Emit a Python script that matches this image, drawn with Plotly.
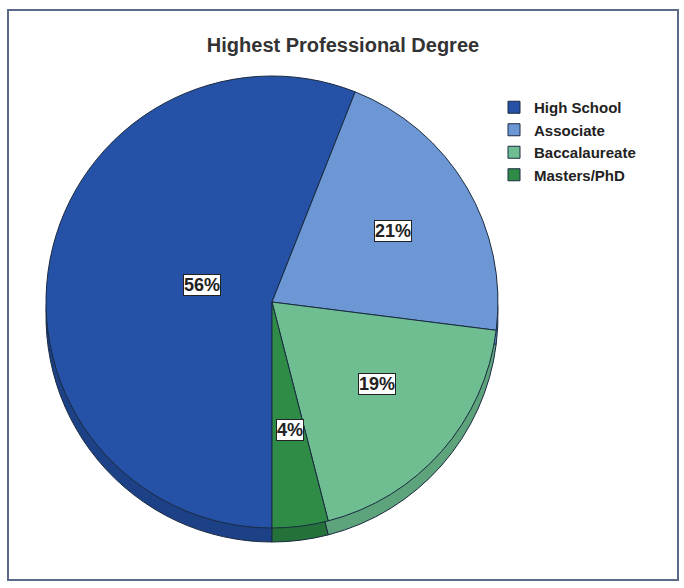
import math
import plotly.graph_objects as go

categories = ["High School", "Associate", "Baccalaureate", "Masters/PhD"]
percents = [56, 21, 19, 4]
colors = ["#2552a6", "#6d97d4", "#6fbe92", "#2f8c47"]
side_colors = ["#1d4186", "#5a7fb4", "#5da37b", "#25713a"]
label_radius = [0.40, 0.62, 0.62, 0.62]

W, H = 684, 588
cx_px, cy_px, R = 272, 302, 226
depth = 14

dom_x = [(cx_px - R) / W, (cx_px + R) / W]
dom_y = [1 - (cy_px + R) / H, 1 - (cy_px - R) / H]
dom_y_side = [dom_y[0] - depth / H, dom_y[1] - depth / H]

legend_labels = [f"<b>{c}</b>" for c in categories]

fig = go.Figure()
# darker copy shifted down to imitate the 3D edge
fig.add_trace(go.Pie(
    labels=legend_labels, values=percents, sort=False, direction="clockwise",
    rotation=180, domain=dict(x=dom_x, y=dom_y_side),
    marker=dict(colors=side_colors, line=dict(color="#1a2a40", width=1)),
    textinfo="none", hoverinfo="skip", showlegend=False,
))
fig.add_trace(go.Pie(
    labels=legend_labels, values=percents, sort=False, direction="clockwise",
    rotation=180, domain=dict(x=dom_x, y=dom_y),
    marker=dict(colors=colors, line=dict(color="#1a2a40", width=1)),
    textinfo="none", showlegend=True,
))

# percentage labels at slice mid-angles
total = sum(percents)
start = 180.0
annotations = []
for p, rf in zip(percents, label_radius):
    span = 360.0 * p / total
    mid = math.radians(start + span / 2)
    start += span
    dx = math.sin(mid) * rf * R
    dy = math.cos(mid) * rf * R
    annotations.append(dict(
        x=(cx_px + dx) / W, y=1 - (cy_px - dy) / H, xref="paper", yref="paper",
        text=f"<b>{p}%</b>", showarrow=False,
        font=dict(family="Arial, Liberation Sans", size=18, color="#222222"),
        bgcolor="white", bordercolor="#222222", borderwidth=1, borderpad=0,
    ))

fig.update_layout(
    width=W, height=H,
    margin=dict(l=0, r=0, t=0, b=0),
    paper_bgcolor="white",
    title=dict(text="<b>Highest Professional Degree</b>", x=343 / W, xanchor="center",
               y=1 - 45 / H, yanchor="middle",
               font=dict(family="Arial, Liberation Sans", size=20, color="#333333")),
    legend=dict(x=494 / W, y=1 - 91 / H, xanchor="left", yanchor="top",
                font=dict(family="Arial, Liberation Sans", size=15, color="#222222"),
                itemwidth=30, tracegroupgap=0, bgcolor="rgba(0,0,0,0)"),
    annotations=annotations,
    shapes=[dict(type="rect", xref="paper", yref="paper",
                 x0=8 / W, x1=678 / W, y0=1 - 580 / H, y1=1 - 10 / H,
                 line=dict(color="#5a6a88", width=2))],
)

fig.write_html("out.html")
